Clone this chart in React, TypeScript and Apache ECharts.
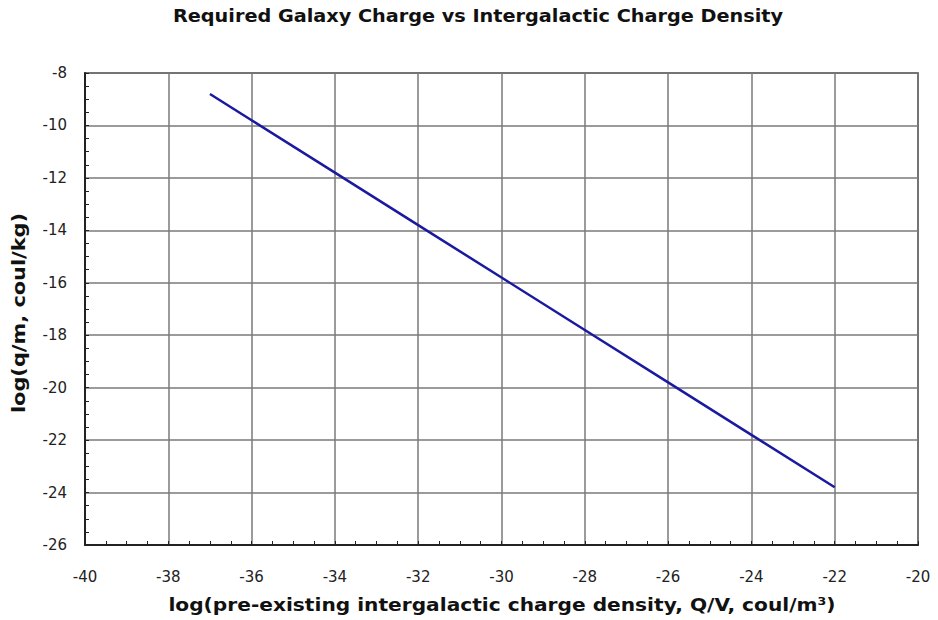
import React, { useEffect, useRef } from "react";
import * as echarts from "echarts";

const titleText = "Required Galaxy Charge vs Intergalactic Charge Density";
const xName = "log(pre-existing intergalactic charge density, Q/V, coul/m³)";
const yName = "log(q/m, coul/kg)";
const xValues = [-37, -36, -34, -32, -30, -28, -26, -24, -22];
const yValues = [-8.8, -9.8, -11.8, -13.8, -15.8, -17.8, -19.8, -21.8, -23.8];

const FONT = "DejaVu Sans, Verdana, sans-serif";

export default function App() {
  const ref = useRef<HTMLDivElement>(null);
  useEffect(() => {
    if (!ref.current) return;
    const chart = echarts.init(ref.current, null, { renderer: "svg" });
    const gridLine = { show: true, lineStyle: { color: "#7a7a7a", width: 1.5 } };
    const boldText = { fontFamily: FONT, fontSize: 18, fontWeight: "bold", fill: "#111", align: "center", verticalAlign: "middle" };
    chart.setOption({
      animation: false,
      backgroundColor: "#ffffff",
      graphic: [
        { type: "text", x: 478, y: 16, scaleX: 1.07, style: { ...boldText, text: titleText } },
        { type: "text", x: 502, y: 605, scaleX: 1.12, style: { ...boldText, text: xName } },
        { type: "text", x: 19, y: 313, rotation: Math.PI / 2, scaleX: 1.16, style: { ...boldText, text: yName } },
      ],
      grid: { left: 85, right: 20, top: 73, bottom: 75, show: true, borderColor: "#333", borderWidth: 1.5, backgroundColor: "transparent" },
      xAxis: {
        type: "value",
        min: -40,
        max: -20,
        interval: 2,
        axisLine: { show: true, onZero: false, lineStyle: { color: "#222", width: 2 } },
        axisTick: { show: true, inside: true, length: 4, lineStyle: { color: "#222" } },
        minorTick: { show: true, splitNumber: 4, length: 4, lineStyle: { color: "#222" } },
        axisLabel: { fontFamily: FONT, fontSize: 15, color: "#222", margin: 24 },
        splitLine: gridLine,
      },
      yAxis: {
        type: "value",
        min: -26,
        max: -8,
        interval: 2,
        axisLine: { show: true, onZero: false, lineStyle: { color: "#222", width: 2 } },
        axisTick: { show: true, inside: true, length: 4, lineStyle: { color: "#222" } },
        minorTick: { show: true, splitNumber: 4, length: 4, lineStyle: { color: "#222" } },
        axisLabel: { fontFamily: FONT, fontSize: 15, color: "#222", margin: 18 },
        splitLine: gridLine,
      },
      series: [
        {
          type: "line",
          data: xValues.map((x, i) => [x, yValues[i]]),
          showSymbol: false,
          lineStyle: { color: "#1a1aa0", width: 2.5 },
        },
      ],
    });
    return () => chart.dispose();
  }, []);
  return <div ref={ref} style={{ position: "fixed", left: 0, top: 0, width: 938, height: 620 }} />;
}
